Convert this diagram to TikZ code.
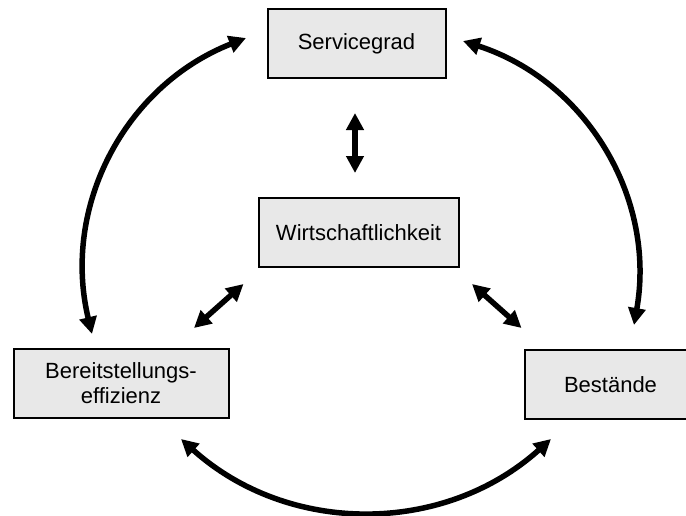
\documentclass[tikz,border=0pt]{standalone}
\usepackage{fontspec}
\setmainfont{Liberation Sans}
\usetikzlibrary{arrows.meta}
\definecolor{boxgray}{RGB}{232,232,232}
\begin{document}
\begin{tikzpicture}[x=1pt,y=-1pt,
  box/.style={draw=black, line width=2pt, fill=boxgray, minimum height=69pt,
    inner sep=0pt, align=center, font=\fontsize{22}{25}\selectfont},
  link/.style={line width=5.5pt,
    {Triangle[length=17pt,width=17pt]}-{Triangle[length=17pt,width=17pt]}}]
\useasboundingbox (0,0) rectangle (686,515);
\clip (0,0) rectangle (686,515);

% boxes
\node[box, minimum width=178pt] (sg) at (356.5,43.5) {Servicegrad};
\node[box, minimum width=200pt] (wi) at (358.5,232.5) {Wirtschaftlichkeit};
\node[box, minimum width=215pt] (be) at (121,383.5) {Bereitstellungs-\\effizienz};
\node[box, minimum width=172pt] (bs) at (610.5,384.5) {Bestände};

% arrow end points next to the boxes
\coordinate (sgL) at ([shift={(-20.5,-5.5)}]sg.west);
\coordinate (sgR) at ([shift={(16.5,-2.5)}]sg.east);
\coordinate (sgB) at ([shift={(-1.5,34)}]sg.south);
\coordinate (wiT) at ([shift={(-3.5,-24)}]wi.north);
\coordinate (wiL) at ([shift={(-14,16)}]wi.south west);
\coordinate (wiR) at ([shift={(12.5,16)}]wi.south east);
\coordinate (beT) at ([shift={(-29,-14)}]be.north);
\coordinate (beR) at ([shift={(-35.5,-20)}]be.north east);
\coordinate (beB) at ([shift={(60,20)}]be.south);
\coordinate (bsT) at ([shift={(23.5,-24)}]bs.north);
\coordinate (bsL) at ([shift={(-2,-21)}]bs.north west);
\coordinate (bsB) at ([shift={(-59.5,19)}]bs.south);

% outer cycle
\draw[link] (beT) to[bend left=41] (sgL);
\draw[link] (sgR) to[bend left=41] (bsT);
\draw[link] (beB) to[bend right=42] (bsB);

% links to the centre
\draw[link] (sgB) -- (wiT);
\draw[link] (beR) -- (wiL);
\draw[link] (wiR) -- (bsL);
\end{tikzpicture}
\end{document}
